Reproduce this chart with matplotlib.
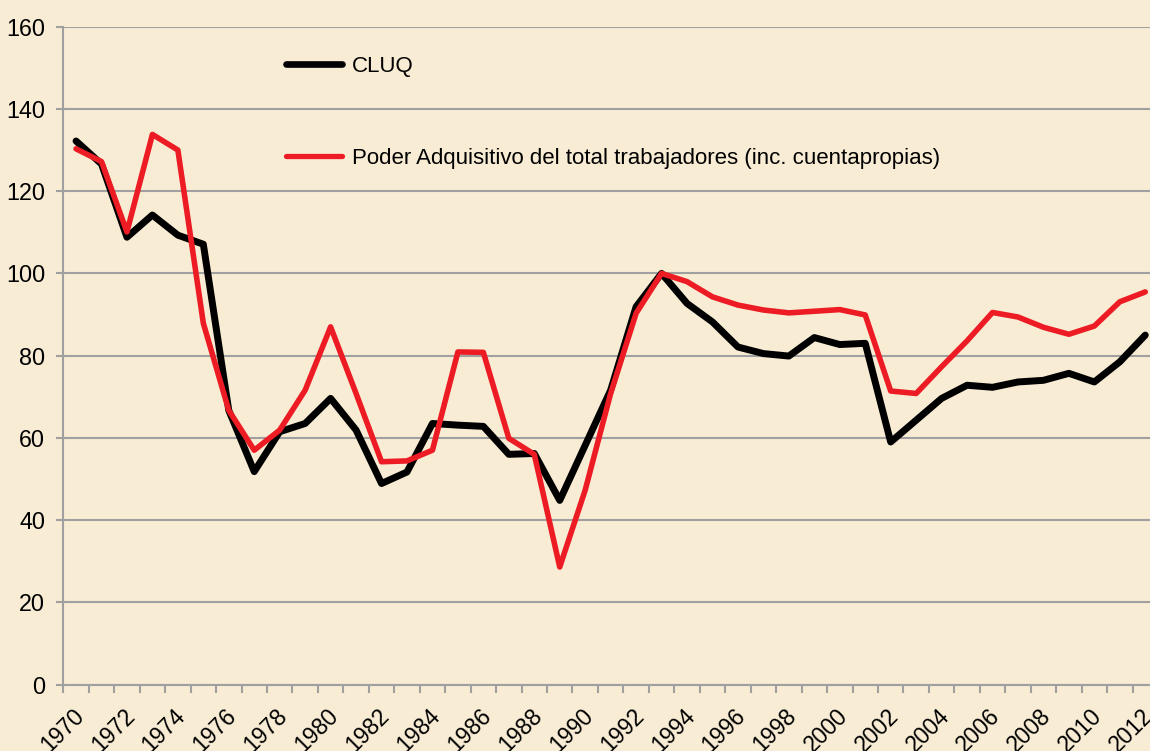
import matplotlib
matplotlib.use("Agg")
import matplotlib.pyplot as plt
import matplotlib.transforms as mtrans
from matplotlib.lines import Line2D
import numpy as np

years = list(range(1970, 2013))
cluq = [132.2, 126.6, 108.8, 114.2, 109.3, 107.1, 66.7, 51.8, 61.5, 63.5,
        69.6, 61.9, 48.9, 51.7, 63.5, 63.1, 62.8, 56.0, 56.2, 44.8,
        58.2, 71.6, 91.9, 100.0, 92.7, 88.2, 82.1, 80.5, 79.9, 84.4,
        82.7, 83.0, 59.0, 64.3, 69.6, 72.8, 72.3, 73.6, 74.0, 75.7,
        73.6, 78.5, 85.0]
poder = [130.3, 127.2, 110.1, 133.8, 130.0, 87.9, 66.7, 57.0, 61.9, 71.6,
         87.0, 70.8, 54.2, 54.4, 57.0, 80.9, 80.8, 59.9, 56.0, 28.6,
         47.3, 70.8, 90.3, 100.0, 98.0, 94.3, 92.3, 91.1, 90.4, 90.8,
         91.2, 89.9, 71.4, 70.8, 77.3, 83.6, 90.5, 89.4, 86.9, 85.2,
         87.2, 93.1, 95.5]
yticks = [0, 20, 40, 60, 80, 100, 120, 140, 160]
label_cluq = "CLUQ"
label_poder = "Poder Adquisitivo del total trabajadores (inc. cuentapropias)"

BG = "#F8ECD4"
RED = "#ED1C24"
GRID = "#A0A0A0"
W, H = 1150, 751
FONT = ["Liberation Sans", "DejaVu Sans"]

fig = plt.figure(figsize=(W / 100, H / 100), dpi=100, facecolor=BG)
left_px, right_px, top_px, bot_px = 63.3, 1158.0, 26.7, 684.6
ax = fig.add_axes([left_px / W, 1 - bot_px / H, (right_px - left_px) / W, (bot_px - top_px) / H])
ax.set_facecolor(BG)

x = np.arange(len(years))
ax.plot(x, cluq, color="black", lw=5.0, solid_joinstyle="round", solid_capstyle="round", zorder=3)
ax.plot(x, poder, color=RED, lw=4.0, solid_joinstyle="round", solid_capstyle="round", zorder=4)

ax.set_xlim(-0.5, len(years) - 0.5)
ax.set_ylim(0, 160)

ax.set_yticks(yticks)
ax.set_yticklabels([str(v) for v in yticks], family=FONT, fontsize=16.8)
ax.yaxis.grid(True, color=GRID, lw=1.5)
ax.set_axisbelow(True)
ax.tick_params(axis="y", length=5, width=1.5, color=GRID, pad=8)

ax.set_xticks(np.arange(-0.5, len(years), 1.0), minor=True)
ax.set_xticks(x[::2])
ax.set_xticklabels([str(y) for y in years[::2]], rotation=45, ha="right", va="top",
                   rotation_mode="anchor", family=FONT, fontsize=16.5)
ax.tick_params(axis="x", which="major", length=0, pad=14)
ax.tick_params(axis="x", which="minor", length=6, width=1.5, color=GRID)
offset = mtrans.ScaledTranslation(-4 / 100, 0, fig.dpi_scale_trans)
for lab in ax.get_xticklabels():
    lab.set_transform(lab.get_transform() + offset)

for s in ["top", "right"]:
    ax.spines[s].set_visible(False)
for s in ["left", "bottom"]:
    ax.spines[s].set_color(GRID)
    ax.spines[s].set_linewidth(1.5)

handles = [Line2D([], [], color="black", lw=4.8, solid_capstyle="round"),
           Line2D([], [], color=RED, lw=3.8, solid_capstyle="round")]
fig.legend(handles, [label_cluq, label_poder], loc="upper left",
           bbox_to_anchor=(286 / W, 1 - 56 / H), frameon=False,
           prop={"family": FONT, "size": 16.0},
           handlelength=2.5, handletextpad=0.48, labelspacing=3.2,
           borderpad=0, borderaxespad=0)

fig.savefig("out.png", dpi=100, facecolor=BG)
